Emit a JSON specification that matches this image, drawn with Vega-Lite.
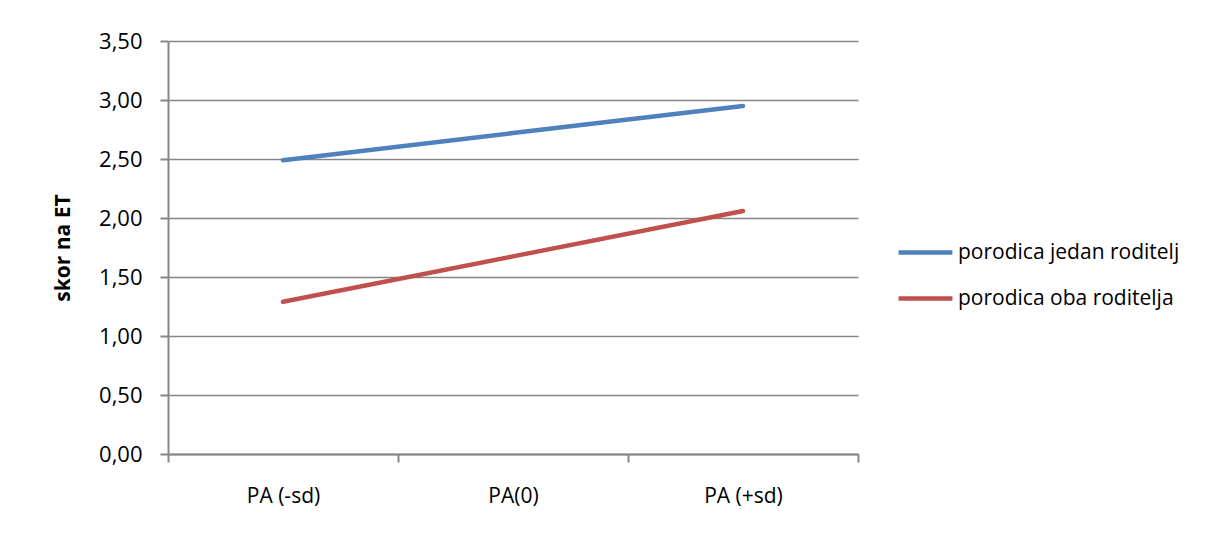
{
  "$schema": "https://vega.github.io/schema/vega-lite/v6.json",
  "autosize": {"type": "none"},
  "width": 690,
  "height": 413,
  "padding": {"left": 168, "top": 41, "right": 365, "bottom": 79},
  "background": "white",
  "config": {
    "view": {"stroke": null},
    "font": "Open Sans"
  },
  "data": {
    "values": [
      {"pa": "PA (-sd)", "grupa": "porodica jedan roditelj", "skor": 2.49},
      {"pa": "PA(0)", "grupa": "porodica jedan roditelj", "skor": 2.72},
      {"pa": "PA (+sd)", "grupa": "porodica jedan roditelj", "skor": 2.95},
      {"pa": "PA (-sd)", "grupa": "porodica oba roditelja", "skor": 1.29},
      {"pa": "PA(0)", "grupa": "porodica oba roditelja", "skor": 1.675},
      {"pa": "PA (+sd)", "grupa": "porodica oba roditelja", "skor": 2.06}
    ]
  },
  "mark": {"type": "line", "strokeWidth": 4.5, "strokeCap": "round"},
  "encoding": {
    "x": {
      "field": "pa",
      "type": "nominal",
      "sort": ["PA (-sd)", "PA(0)", "PA (+sd)"],
      "scale": {"type": "band", "paddingInner": 0, "paddingOuter": 0},
      "axis": {
        "title": null,
        "labelAngle": 0,
        "labelFontSize": 21,
        "labelColor": "#000000",
        "labelPadding": 23,
        "tickBand": "extent",
        "tickSize": 8,
        "tickColor": "#868686",
        "tickWidth": 2,
        "domainColor": "#868686",
        "domainWidth": 2,
        "grid": false
      }
    },
    "y": {
      "field": "skor",
      "type": "quantitative",
      "scale": {"domain": [0, 3.5], "nice": false, "zero": true},
      "axis": {
        "title": "skor na ET",
        "titleFontSize": 21,
        "titleFontWeight": "bold",
        "titleColor": "#000000",
        "titlePadding": 25,
        "values": [0, 0.5, 1, 1.5, 2, 2.5, 3, 3.5],
        "labelExpr": "replace(format(datum.value, '.2f'), '.', ',')",
        "labelFontSize": 22,
        "labelColor": "#000000",
        "labelPadding": 18,
        "tickSize": 8,
        "tickColor": "#868686",
        "tickWidth": 2,
        "domainColor": "#868686",
        "domainWidth": 2,
        "grid": true,
        "gridColor": "#868686",
        "gridWidth": 1.5
      }
    },
    "color": {
      "field": "grupa",
      "type": "nominal",
      "scale": {
        "domain": ["porodica jedan roditelj", "porodica oba roditelja"],
        "range": ["#4F81BD", "#C0504D"]
      },
      "legend": {
        "title": null,
        "orient": "none",
        "legendX": 728,
        "legendY": 182,
        "symbolType": "stroke",
        "symbolSize": 2900,
        "symbolStrokeWidth": 4.5,
        "labelFontSize": 21,
        "labelColor": "#000000",
        "labelOffset": 3,
        "rowPadding": 6,
        "labelLimit": 400
      }
    }
  }
}
